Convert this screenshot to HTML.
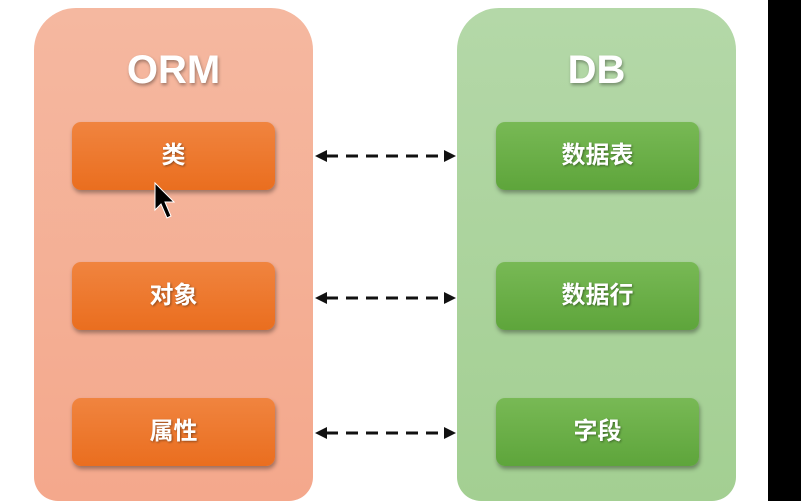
<!DOCTYPE html>
<html><head><meta charset="utf-8"><style>
html,body{margin:0;padding:0;width:801px;height:501px;overflow:hidden;background:#fff;font-family:"Liberation Sans","Noto Sans CJK SC",sans-serif}
#wrap{position:relative;width:801px;height:501px;overflow:hidden}
.panel{position:absolute;top:8px;width:279px;height:493px;border-radius:42px 42px 24px 24px}
.l{left:34px;background:linear-gradient(#f5b8a0,#f4a88c)}
.r{left:457px;background:linear-gradient(#b4d8a8,#a3cf92)}
.h{position:absolute;top:40px;width:279px;text-align:center;color:#fff;font-weight:bold;font-size:40px;text-shadow:1px 2px 3px rgba(0,0,0,.35)}
.b{position:absolute;width:203px;height:68px;border-radius:9px;color:#fff;font-weight:bold;font-size:24px;line-height:68px;text-align:center;box-shadow:1px 3px 4px rgba(0,0,0,.35);text-shadow:1px 1px 2px rgba(0,0,0,.4)}
.o{left:72px;background:linear-gradient(#f0843f,#ea6e1f)}
.g{left:496px;background:linear-gradient(#78b955,#5ea53b)}
.black{position:absolute;left:768px;top:0;width:33px;height:501px;background:#000}
</style></head><body><div id="wrap">
<div class="panel l"><div class="h">ORM</div></div>
<div class="panel r"><div class="h">DB</div></div>
<div class="b o" style="top:122px">类</div>
<div class="b o" style="top:262px">对象</div>
<div class="b o" style="top:398px">属性</div>
<div class="b g" style="top:122px">数据表</div>
<div class="b g" style="top:262px">数据行</div>
<div class="b g" style="top:398px">字段</div>
<svg style="position:absolute;left:0;top:0" width="801" height="501">
<g stroke="#111" stroke-width="3" stroke-dasharray="12,8" fill="none">
<line x1="326" y1="156" x2="446" y2="156"/>
<line x1="326" y1="298" x2="446" y2="298"/>
<line x1="326" y1="433" x2="446" y2="433"/>
</g>
<g fill="#111">
<polygon points="315,156 327,150 327,162"/><polygon points="456,156 444,150 444,162"/>
<polygon points="315,298 327,292 327,304"/><polygon points="456,298 444,292 444,304"/>
<polygon points="315,433 327,427 327,439"/><polygon points="456,433 444,427 444,439"/>
</g>
<polygon points="155,183 155,210 161,204 167,218 171,216 165,202 174,202" fill="#000" stroke="#fff" stroke-width="1"/>
</svg>
<div class="black"></div>
</div></body></html>
